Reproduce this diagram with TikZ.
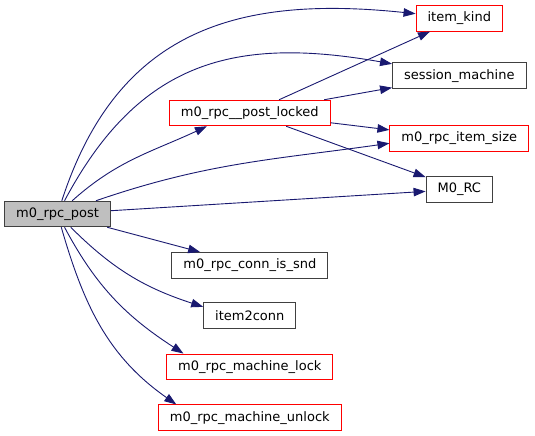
\documentclass[tikz,border=0pt]{standalone}
\usepackage{fontspec}
\setmainfont{DejaVu Sans}
\usepackage{tikz}
\usetikzlibrary{arrows.meta, positioning, calc}
\definecolor{midnight}{HTML}{191970}

\begin{document}
\begin{tikzpicture}[x=1pt, y=1pt,
  fn/.style={draw=black!75, fill=white, line width=1pt, inner xsep=11.5pt, inner ysep=0pt,
    minimum height=25.5pt, font=\fontsize{13pt}{15pt}\selectfont},
  fnred/.style={fn, draw=red},
  fnroot/.style={fn, fill=gray!50},
  calls/.style={midnight, line width=0.9pt, -{Triangle[length=12pt, width=8.5pt]}}]
  \useasboundingbox (0,0) rectangle (535,-436);
  % column centres (px from the left edge), rows counted downward
  \def\colA{57.5}
  \def\colB{249.8}
  \def\colC{459.3}
  % root
  \node[fnroot] (post) at (\colA,-214) {m0\_rpc\_post};
  % middle column
  \node[fnred] (locked) at (\colB,-113) {m0\_rpc\_\_post\_locked};
  \node[fn] (issnd) at (\colB,-265.3) {m0\_rpc\_conn\_is\_snd};
  \node[fn] (toconn) at (\colB,-315.5) {item2conn};
  \node[fnred] (mlock) at (\colB,-366.8) {m0\_rpc\_machine\_lock};
  \node[fnred] (munlock) at (\colB,-417.7) {m0\_rpc\_machine\_unlock};
  % right column
  \node[fnred] (kind) at (\colC,-18.3) {item\_kind};
  \node[fn] (smach) at (\colC,-75.7) {session\_machine};
  \node[fnred] (isize) at (\colC,-138.3) {m0\_rpc\_item\_size};
  \node[fn] (rc) at (\colC,-189.3) {M0\_RC};
  % calls from the root, upper fan
  \draw[calls] (post) to[out=72, in=174, looseness=1.15] (kind);
  \draw[calls] (post) to[out=62, in=170, looseness=1.15] (smach);
  \draw[calls] (post) to[out=42, in=205] ([xshift=38pt]locked.south west);
  \draw[calls] (post) to[out=19, in=188] ([yshift=-5pt]isize.west);
  % straight calls
  \draw[calls] (post) -- (rc);
  \draw[calls] (post) -- (issnd);
  % lower fan
  \draw[calls] (post) to[out=-45, in=162] ([yshift=-4.6pt]toconn.north west);
  \draw[calls] (post) to[out=-62, in=147] ([xshift=17.3pt]mlock.north west);
  \draw[calls] (post) to[out=-74, in=145] ([xshift=18.4pt]munlock.north west);
  % calls from m0_rpc__post_locked
  \foreach \callee in {kind, smach, isize, rc}
    \draw[calls] (locked) -- (\callee);
\end{tikzpicture}
\end{document}
